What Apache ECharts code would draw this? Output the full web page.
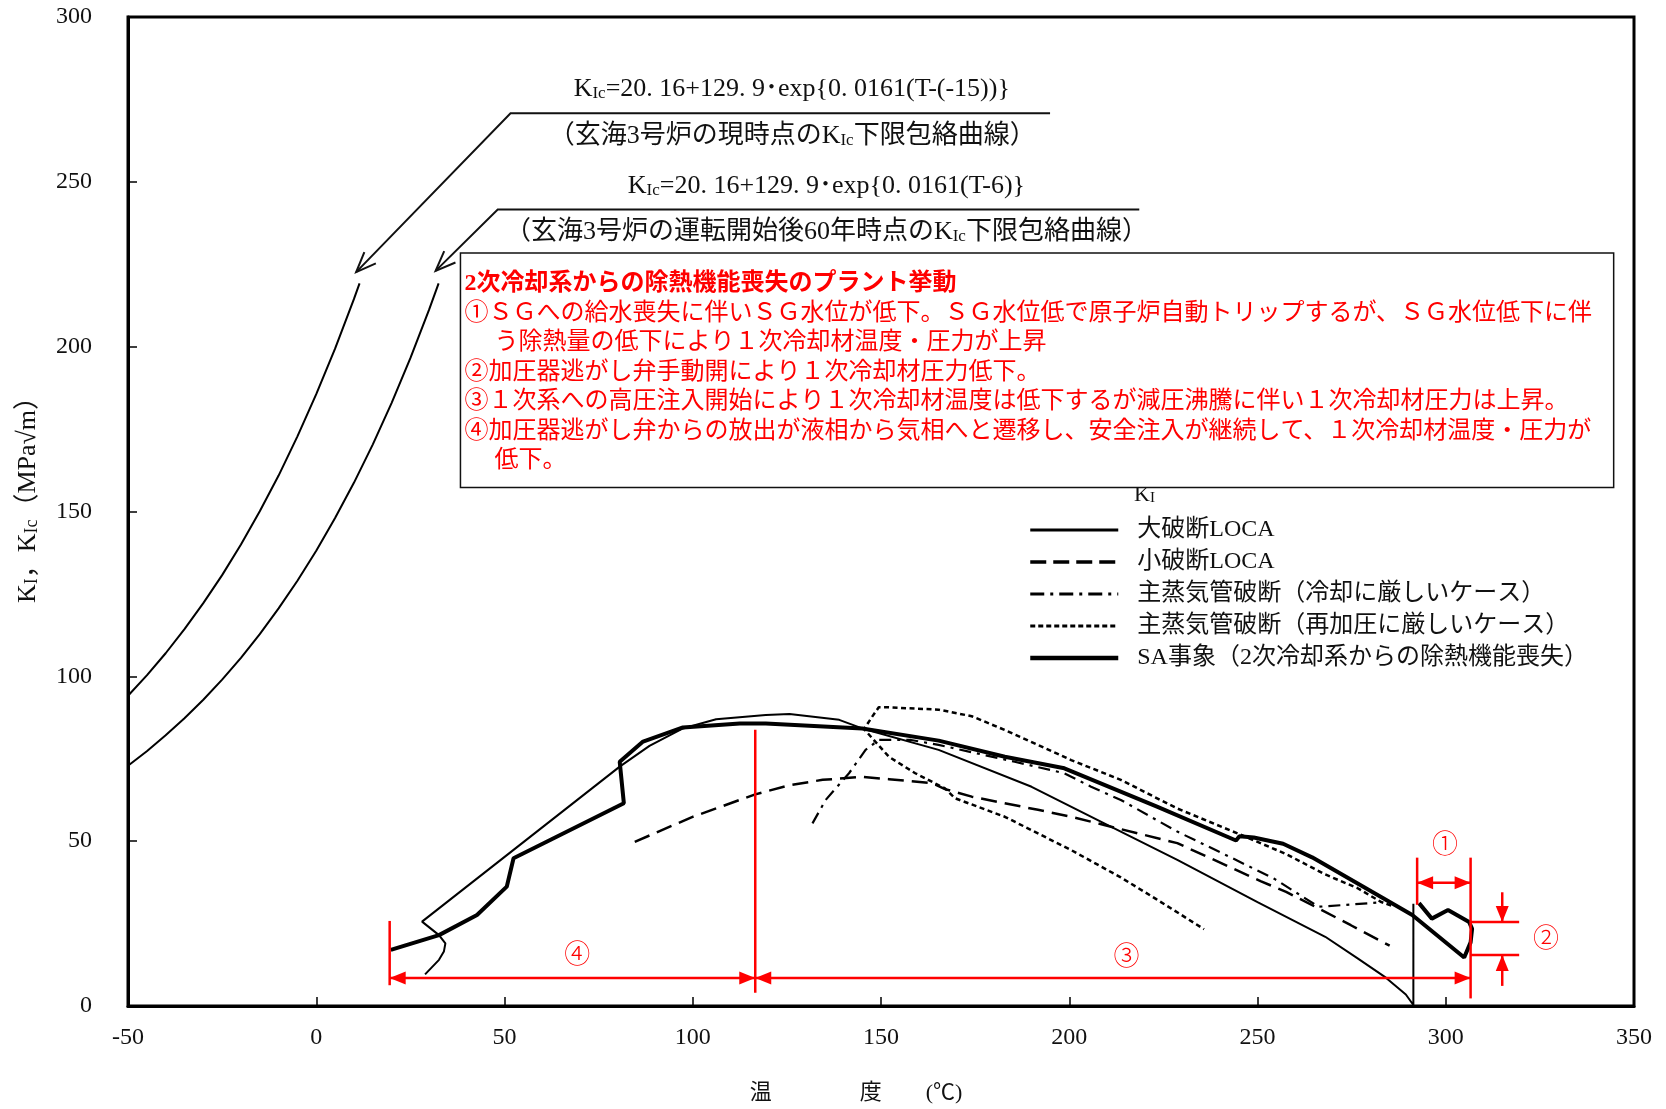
<!DOCTYPE html>
<html><head><meta charset="utf-8">
<script src="https://cdn.jsdelivr.net/npm/echarts@6/dist/echarts.min.js"></script>
<style>html,body{margin:0;padding:0;background:#fff}#c{width:1666px;height:1109px}</style>
</head><body><div id="c"></div>
<script>
// ---------- axis ----------
const xRange = [-50, 350, 50];
const yRange = [0, 300, 50];

// ---------- KIc lower-bound curves ----------
const kicNowT = [-50,-45,-40,-35,-30,-25,-20,-15,-10,-5,0,5,10,11.5];
const kicNowK = [94.1,100.3,107.0,114.3,122.2,130.7,140.0,150.1,160.9,172.8,185.6,199.4,214.4,219.2];
const kic60T  = [-50,-45,-40,-35,-30,-25,-20,-15,-10,-5,0,5,10,15,20,25,30,32.5];
const kic60K  = [72.9,77.3,82.1,87.3,92.9,99.0,105.6,112.8,120.6,129.0,138.1,148.0,158.7,170.3,182.9,196.5,211.3,219.2];

// ---------- KI transients [T, KI] ----------
const largeLoca = [[291.4,31],[291.4,0.3],[289.4,3.5],[284.1,8.6],[276.5,14.5],[268,21],[250,31.5],[228.7,44.3],[209.3,55.4],[190,66.5],[165.3,77.7],[145,84.2],[138.9,86.8],[125.7,88.6],[119.4,88.3],[106.2,87.0],[97.4,84.2],[88.5,78.9],[80.6,72.6],[28.1,25.6],[32.6,21.5],[34.3,19.0],[33.9,16.5],[32.6,14.0],[28.9,9.6]];
const smallLoca = [[84.6,49.8],[99.8,57.3],[116.6,64.2],[125.7,67.0],[134.5,68.6],[145,69.5],[152.1,68.8],[163.5,67.6],[167.0,65.8],[174.1,63.5],[191.7,59.5],[200.5,57.4],[209.3,54.9],[218.1,52.4],[228.7,49.4],[250.8,37.9],[257.6,34.6],[266.2,29.6],[274.8,24.5],[285.1,18.3]];
const mslbCool = [[131.8,55.4],[135.3,62.5],[141.5,70.6],[145.9,77.7],[149.4,80.7],[158,80.7],[165.3,79.2],[185.5,74.1],[198.7,70.6],[205.8,66.5],[213.7,62.5],[228.7,52.9],[243.4,44.8],[254.6,38.5],[266.2,30.1],[275,30.8],[283.4,31.5]];
const mslbRepress = [[285.5,30.5],[282.9,31.5],[276.5,35.8],[268.0,39.9],[257.6,46.1],[244.8,52.3],[228.7,59.9],[213.7,68.6],[200.5,74.6],[191.7,79.2],[182.9,83.7],[174.1,87.9],[165.3,89.9],[152,90.6],[149.4,90.6],[147.5,87.5],[145.5,84.0],[152.1,75.6],[159.1,70.6],[167,66.0],[169.7,63.0],[182.9,57.4],[200.5,47.3],[213.7,39.0],[223,32.5],[235.8,23.3]];
const saEvent = [[292.9,31.2],[296.3,26.5],[300.6,29.1],[306.2,25.5],[307.0,23.4],[306.6,19.3],[304.9,14.7],[291.1,27.6],[283.4,32.7],[264.5,45.1],[256.8,49.2],[249.0,51.1],[245.2,51.5],[244.3,50.2],[223.3,60.5],[198.7,72.1],[182.9,75.6],[165.3,80.5],[145,84.2],[119.4,85.7],[112.5,85.7],[97.4,84.5],[86.8,80.2],[80.6,74.1],[81.7,61.5],[52.4,44.8],[50.6,36.2],[42.7,27.6],[32.6,21.5],[19.8,17.0]];

const seriesNames = ['大破断LOCA','小破断LOCA','主蒸気管破断（冷却に厳しいケース）','主蒸気管破断（再加圧に厳しいケース）','SA事象（2次冷却系からの除熱機能喪失）'];

// ---------- annotations (data coordinates) ----------
const leaderLines = [
  [[10.6,222.6],[51.6,270.8],[194.9,270.8]],
  [[31.7,223.0],[48.2,241.6],[218.6,241.6]]
];
const formulaTexts = [
  {p:[126.3,278.2], t:'K{s|Ic}=20. 16+129. 9･exp{0. 0161(T-(-15))}'},
  {p:[126.4,264.0], t:'（玄海3号炉の現時点のK{s|Ic}下限包絡曲線）'},
  {p:[135.5,248.7], t:'K{s|Ic}=20. 16+129. 9･exp{0. 0161(T-6)}'},
  {p:[135.5,234.8], t:'（玄海3号炉の運転開始後60年時点のK{s|Ic}下限包絡曲線）'}
];
const redVLines = [[19.5,25.8,6.3],[116.6,83.8,4.0],[306.6,45,2.3],[292.4,45,30.7]];
const redDblArrows = [[19.5,116.6,8.5],[116.6,306.6,8.5],[292.4,306.6,37.4]];
const redHLines = [[306.6,319.5,25.5],[306.6,319.5,15.5]];
const redInArrows = [[315.0,34.5,25.5],[315.0,6.1,15.5]];
const redLabels = [{p:[299.8,49.4],t:'①'},{p:[326.6,21.0],t:'②'},{p:[215.2,15.5],t:'③'},{p:[69.3,16.1],t:'④'}];
const redBox = [38.3,228.4,344.6,157.3];
const redBoxLines = [
  {t:'2次冷却系からの除熱機能喪失のプラント挙動', bold:true},
  {t:'①ＳＧへの給水喪失に伴いＳＧ水位が低下。ＳＧ水位低で原子炉自動トリップするが、ＳＧ水位低下に伴'},
  {t:'う除熱量の低下により１次冷却材温度・圧力が上昇', indent:true},
  {t:'②加圧器逃がし弁手動開により１次冷却材圧力低下。'},
  {t:'③１次系への高圧注入開始により１次冷却材温度は低下するが減圧沸騰に伴い１次冷却材圧力は上昇。'},
  {t:'④加圧器逃がし弁からの放出が液相から気相へと遷移し、安全注入が継続して、１次冷却材温度・圧力が'},
  {t:'低下。', indent:true}
];

const RED = '#ff0000';
const INK = '#111111';
const SERIF = '"Liberation Serif","Noto Sans CJK JP",serif';
const JP = '"Noto Sans CJK JP",sans-serif';

function renderAnno(params, api) {
  const P = p => api.coord(p);
  const ch = [];
  function poly(ptsD, color, w) {
    ch.push({type:'polyline', shape:{points: ptsD.map(P)}, style:{stroke:color, lineWidth:w, fill:null}});
  }
  function head(tipD, fromD, filled, color, len, hw, w) {
    const t = P(tipD), f = P(fromD);
    const dx = t[0]-f[0], dy = t[1]-f[1], L = Math.hypot(dx,dy) || 1;
    const ux = dx/L, uy = dy/L;
    const bx = t[0]-ux*len, by = t[1]-uy*len, px = -uy*hw, py = ux*hw;
    const pts = [[bx+px,by+py],[t[0],t[1]],[bx-px,by-py]];
    if (filled) ch.push({type:'polygon', shape:{points:pts}, style:{fill:color}});
    else ch.push({type:'polyline', shape:{points:pts}, style:{stroke:color, lineWidth:w, fill:null}});
  }
  leaderLines.forEach(l => { poly(l, INK, 2); head(l[0], l[1], false, INK, 20, 8, 2); });
  formulaTexts.forEach(f => {
    const p = P(f.p);
    ch.push({type:'text', x:p[0], y:p[1], style:{text:f.t, fill:INK, fontSize:26, fontFamily:SERIF, align:'center', verticalAlign:'middle',
      rich:{s:{fontSize:17, fontFamily:SERIF, verticalAlign:'bottom', fill:INK}}}});
  });
  redVLines.forEach(v => poly([[v[0],v[1]],[v[0],v[2]]], RED, 2.5));
  redDblArrows.forEach(a => {
    poly([[a[0],a[2]],[a[1],a[2]]], RED, 2.5);
    head([a[0],a[2]],[a[1],a[2]], true, RED, 16, 6.5);
    head([a[1],a[2]],[a[0],a[2]], true, RED, 16, 6.5);
  });
  redHLines.forEach(h => poly([[h[0],h[2]],[h[1],h[2]]], RED, 2.5));
  redInArrows.forEach(a => { poly([[a[0],a[1]],[a[0],a[2]]], RED, 2.5); head([a[0],a[2]],[a[0],a[1]], true, RED, 16, 6.5); });
  redLabels.forEach(l => {
    const p = P(l.p);
    ch.push({type:'text', x:p[0], y:p[1], style:{text:l.t, fill:RED, fontSize:26, fontFamily:JP, fontWeight:300, align:'center', verticalAlign:'middle'}});
  });
  const b0 = P([redBox[0], redBox[1]]), b1 = P([redBox[2], redBox[3]]);
  ch.push({type:'rect', shape:{x:b0[0], y:b0[1], width:b1[0]-b0[0], height:b1[1]-b0[1]}, style:{fill:null, stroke:INK, lineWidth:1.5}});
  redBoxLines.forEach((ln, i) => {
    ch.push({type:'text', x:b0[0]+4+(ln.indent?30:0), y:b0[1]+31+i*29.5,
      style:{text:ln.t, fill:RED, fontSize:24, fontFamily:SERIF, fontWeight:ln.bold?'bold':'normal', align:'left', verticalAlign:'middle'}});
  });
  return {type:'group', children:ch};
}

function lineSeries(name, data, w, type, z) {
  return {type:'line', name, data, symbol:'none', symbolSize:0, showSymbol:false, smooth:false, silent:true,
    lineStyle:{color:'#000', width:w, type:type}, itemStyle:{color:'#000'}, z:z, animation:false};
}

const chart = echarts.init(document.getElementById('c'), null, {renderer:'canvas'});
chart.setOption({
  animation:false,
  backgroundColor:'#fff',
  textStyle:{fontFamily:SERIF},
  grid:{left:128, right:32, top:17, bottom:103, show:true, borderColor:'#000', borderWidth:3, containLabel:false, outerBoundsMode:'none'},
  xAxis:{type:'value', min:xRange[0], max:xRange[1], interval:xRange[2],
    axisLine:{show:true, onZero:false, lineStyle:{color:'#000', width:3}},
    axisTick:{show:true, inside:true, length:9, lineStyle:{color:'#000', width:1.5}},
    axisLabel:{color:INK, fontSize:24, fontFamily:SERIF, margin:20},
    splitLine:{show:false},
    name:'温　　　　度　　(℃)', nameLocation:'middle', nameGap:76,
    nameTextStyle:{color:INK, fontSize:22, fontFamily:SERIF, padding:[0,50,0,0]}},
  yAxis:{type:'value', min:yRange[0], max:yRange[1], interval:yRange[2],
    axisLine:{show:true, onZero:false, lineStyle:{color:'#000', width:3}},
    axisTick:{show:true, inside:true, length:9, lineStyle:{color:'#000', width:1.5}},
    axisLabel:{color:INK, fontSize:24, fontFamily:SERIF, margin:36},
    splitLine:{show:false},
    name:'K{s|I}，K{s|Ic}（MPa√m）', nameLocation:'middle', nameGap:87,
    nameTextStyle:{color:INK, fontSize:26, fontFamily:SERIF, padding:[0,0,0,36],
      rich:{s:{fontSize:18, fontFamily:SERIF, verticalAlign:'bottom', color:INK}}}},
  legend:{
    data:[
      {name:seriesNames[0], lineStyle:{width:3}},
      {name:seriesNames[1], lineStyle:{width:3.5, type:[16,7]}},
      {name:seriesNames[2], lineStyle:{width:3, type:[14,6,3,6]}},
      {name:seriesNames[3], lineStyle:{width:3, type:[5,3]}},
      {name:seriesNames[4], lineStyle:{width:4.5}}
    ],
    orient:'vertical', left:1023, top:513, itemWidth:88, itemHeight:14, itemGap:8,
    selectedMode:false,
    itemStyle:{opacity:0, borderWidth:0},
    textStyle:{color:INK, fontSize:24, fontFamily:SERIF, padding:[0,0,0,14]}
  },
  graphic:[{type:'text', left:1134, top:484, style:{text:'K{s|I}', fill:INK, fontSize:22, fontFamily:SERIF,
    rich:{s:{fontSize:15, fontFamily:SERIF, verticalAlign:'bottom', fill:INK}}}}],
  series:[
    lineSeries('KIc現時点', kicNowT.map((t,i)=>[t,kicNowK[i]]), 2, 'solid', 3),
    lineSeries('KIc60年', kic60T.map((t,i)=>[t,kic60K[i]]), 2, 'solid', 3),
    lineSeries(seriesNames[0], largeLoca, 2, 'solid', 4),
    lineSeries(seriesNames[1], smallLoca, 2.5, [16,8], 4),
    lineSeries(seriesNames[2], mslbCool, 2.2, [12,6,3,6], 4),
    lineSeries(seriesNames[3], mslbRepress, 2.5, [5,3.5], 4),
    lineSeries(seriesNames[4], saEvent, 4, 'solid', 5),
    {type:'custom', name:'annotations', coordinateSystem:'cartesian2d', data:[[0,0]], renderItem:renderAnno, silent:true, clip:false, z:10, animation:false}
  ]
});
</script>
</body></html>
